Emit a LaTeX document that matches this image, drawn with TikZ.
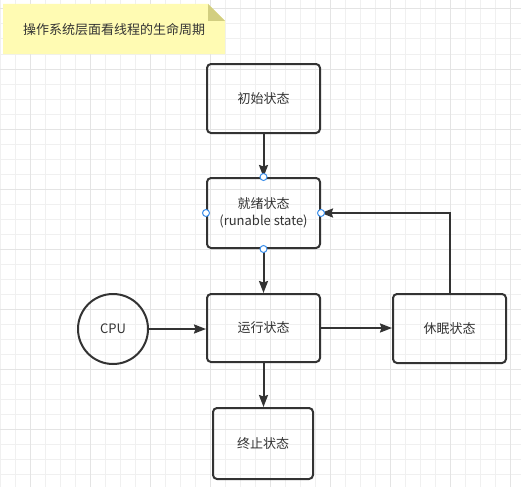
\documentclass[tikz,border=0pt]{standalone}
\usepackage{fontspec}
\setmainfont{Noto Sans CJK SC}
\usetikzlibrary{arrows.meta}
\definecolor{ink}{HTML}{333333}
\definecolor{gridminor}{HTML}{F0F0F0}
\definecolor{gridmajor}{HTML}{E4E4E4}
\definecolor{notefill}{HTML}{FFFBB3}
\definecolor{foldfill}{HTML}{D2CE80}
\definecolor{portblue}{HTML}{3B8EEA}
\tikzset{
  statebox/.style={draw=ink, line width=2pt, rounded corners=4pt, minimum width=113pt,
    minimum height=69pt, inner sep=0pt, text=ink, align=center,
    font=\fontsize{13pt}{17pt}\selectfont},
  cpunode/.style={circle, draw=ink, line width=2pt, minimum size=70pt, inner sep=0pt,
    text=ink, font=\fontsize{13pt}{17pt}\selectfont},
  conn/.style={draw=ink, line width=2pt, -{Stealth[length=12pt,width=9pt,inset=1.5pt]}},
  port/.style={circle, draw=portblue, fill=white, line width=1pt, minimum size=7pt, inner sep=0pt},
  gminor/.style={draw=gridminor, line width=1pt},
  gmajor/.style={draw=gridmajor, line width=1pt}
}
\begin{document}
\begin{tikzpicture}[x=1pt,y=-1pt]
\useasboundingbox (0,0) rectangle (521,487);
\fill[white] (0,0) rectangle (521,487);
\begin{scope}
\clip (0,0) rectangle (521,487);
\foreach \x in {0,15,...,520} \draw[gminor] (\x,0) -- (\x,487);
\foreach \y in {9,24,...,487} \draw[gminor] (0,\y) -- (521,\y);
\foreach \x in {30,90,...,520} \draw[gmajor] (\x,0) -- (\x,487);
\foreach \y in {9,69,...,487} \draw[gmajor] (0,\y) -- (521,\y);
\end{scope}
% note
\fill[notefill] (3,4) -- (208,4) -- (225,21) -- (225,54) -- (3,54) -- cycle;
\fill[foldfill] (208,4) -- (208,21) -- (225,21) -- cycle;
\node[text=ink, font=\fontsize{13pt}{17pt}\selectfont] (note) at (114,30) {操作系统层面看线程的生命周期};
% states
\node[statebox] (init) at (263.5,98.5) {初始状态};
\node[statebox, minimum height=70pt] (ready) at (263.5,213) {就绪状态\\(runable state)};
\node[statebox, minimum height=68pt] (run) at (263.5,328) {运行状态};
\node[statebox] (sleep) at (449.5,328.5) {休眠状态};
\node[statebox, minimum width=100pt, minimum height=71pt] (term) at (263,443.5) {终止状态};
\node[cpunode] (cpu) at (113,329) {CPU};
% connectors
\draw[conn] (init.south) -- (ready.north);
\draw[conn] (ready.south) -- (run.north);
\draw[conn] (cpu.east) -- (cpu.east -| run.west);
\draw[conn] (run.east) -- (run.east -| sleep.west);
\draw[conn] (sleep.north) |- (ready.east);
\draw[conn] (run.south) -- (run.south |- term.north);
% ports
\node[port] (p1) at (ready.north) {};
\node[port] (p2) at (ready.south) {};
\node[port] (p3) at (ready.west) {};
\node[port] (p4) at (ready.east) {};
\end{tikzpicture}
\end{document}
